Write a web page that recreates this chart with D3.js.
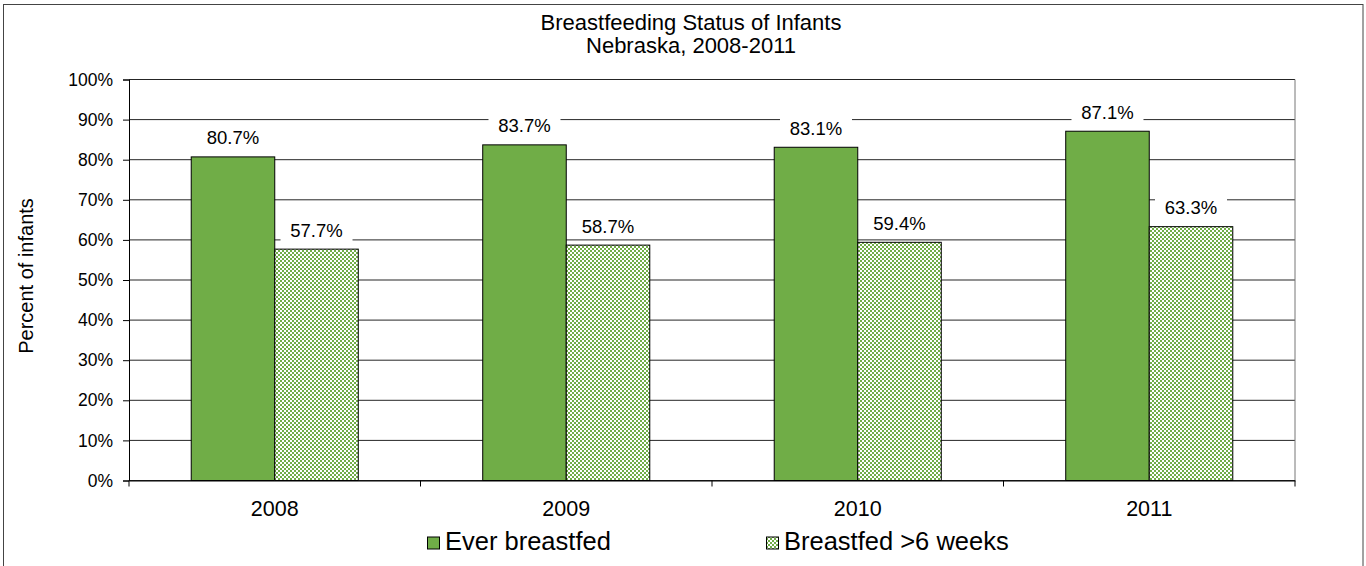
<!DOCTYPE html>
<html><head><meta charset="utf-8">
<script src="https://cdn.jsdelivr.net/npm/d3@7"></script>
<style>body{margin:0;background:#fff;}svg{display:block;font-family:"Liberation Sans",Arial,sans-serif;}</style>
</head><body><svg id="c" width="1366" height="566"></svg>
<script>
const years = ["2008","2009","2010","2011"];
const seriesNames = ["Ever breastfed","Breastfed >6 weeks"];
const everBreastfed = [80.7, 83.7, 83.1, 87.1];
const breastfed6wk = [57.7, 58.7, 59.4, 63.3];
const yTicks = [0,10,20,30,40,50,60,70,80,90,100];
const titleLines = ["Breastfeeding Status of Infants","Nebraska, 2008-2011"];
const yTitle = "Percent of infants";

const svg = d3.select("#c");
const green = "#70ad47";
const defs = svg.append("defs");
const pat = defs.append("pattern").attr("id","chk").attr("patternUnits","userSpaceOnUse").attr("width",4).attr("height",4);
pat.append("rect").attr("width",4).attr("height",4).attr("fill","#fff");
pat.append("rect").attr("x",0).attr("y",0).attr("width",2).attr("height",2).attr("fill",green);
pat.append("rect").attr("x",2).attr("y",2).attr("width",2).attr("height",2).attr("fill",green);

// outer border
svg.append("rect").attr("x",3.5).attr("y",4.5).attr("width",1359.5).attr("height",600).attr("fill","none").attr("stroke","#444").attr("stroke-width",1);

const L=129, R=1295, T=79.5, B=480.5;
const x0 = d3.scaleBand().domain(years).range([L,R]).padding(0);
const x1 = d3.scaleBand().domain(seriesNames).range([0,x0.bandwidth()]).paddingInner(0).paddingOuter(0.745);
const y = d3.scaleLinear().domain([0,100]).range([B,T]);
const fills = [green, "url(#chk)"];
const data = [everBreastfed, breastfed6wk];

// gridlines
svg.append("g").selectAll("line").data(yTicks).join("line")
  .attr("x1",L).attr("x2",R).attr("y1",d=>y(d)).attr("y2",d=>y(d))
  .attr("stroke","#000").attr("stroke-width",1).attr("opacity",0.85);
// right border
svg.append("line").attr("x1",R).attr("x2",R).attr("y1",T).attr("y2",B).attr("stroke","#777");

// y axis
const ya = svg.append("g").attr("transform",`translate(${L},0)`)
  .call(d3.axisLeft(y).tickValues(yTicks).tickFormat(d=>d+"%").tickSize(6).tickPadding(10));
ya.select(".domain").attr("stroke","#000");
ya.selectAll("text").attr("font-size","17.5px").attr("fill","#000").attr("font-family","Liberation Sans, Arial, sans-serif");

// x axis
const xa = svg.append("g").attr("transform",`translate(0,${B})`)
  .call(d3.axisBottom(x0).tickSize(0).tickPadding(20));
xa.select(".domain").attr("stroke","#000");
xa.selectAll("text").attr("font-size","21.5px").attr("fill","#000").attr("font-family","Liberation Sans, Arial, sans-serif");
// category boundary ticks
svg.append("g").selectAll("line").data(years.concat(["end"])).join("line")
  .attr("x1",(d,i)=>i<years.length? x0(d): R).attr("x2",(d,i)=>i<years.length? x0(d): R)
  .attr("y1",B).attr("y2",B+6).attr("stroke","#000");

// bars
seriesNames.forEach((s,si)=>{
  const g = svg.append("g");
  g.selectAll("rect").data(years).join("rect")
    .attr("x",d=>x0(d)+x1(s)).attr("width",x1.bandwidth())
    .attr("y",(d,i)=>y(data[si][i])).attr("height",(d,i)=>B-y(data[si][i]))
    .attr("fill",fills[si]).attr("stroke","#000").attr("stroke-width",1);
});
// labels
seriesNames.forEach((s,si)=>{
  const g = svg.append("g");
  years.forEach((d,i)=>{
    const cx = x0(d)+x1(s)+x1.bandwidth()/2;
    const yy = y(data[si][i]);
    g.append("rect").attr("x",cx-36).attr("y",yy-31).attr("width",72).attr("height",24).attr("fill","#fff");
    g.append("text").attr("x",cx).attr("y",yy-12.5).attr("text-anchor","middle")
      .attr("font-size","18.5px").attr("fill","#000").text(data[si][i].toFixed(1)+"%");
  });
});

// title
svg.append("text").attr("x",691).attr("y",29.5).attr("text-anchor","middle").attr("font-size","22px").text(titleLines[0]);
svg.append("text").attr("x",691).attr("y",52.5).attr("text-anchor","middle").attr("font-size","22px").text(titleLines[1]);

// y title
svg.append("text").attr("transform","translate(33,276) rotate(-90)").attr("text-anchor","middle").attr("font-size","20px").text(yTitle);

// legend
const legX = [427, 766];
seriesNames.forEach((s,si)=>{
  svg.append("rect").attr("x",legX[si]+0.5).attr("y",537).attr("width",12).attr("height",12)
    .attr("fill",fills[si]).attr("stroke","#000").attr("stroke-width",1);
  svg.append("text").attr("x",legX[si]+18).attr("y",549.5).attr("font-size","25.5px").text(s);
});
</script></body></html>
